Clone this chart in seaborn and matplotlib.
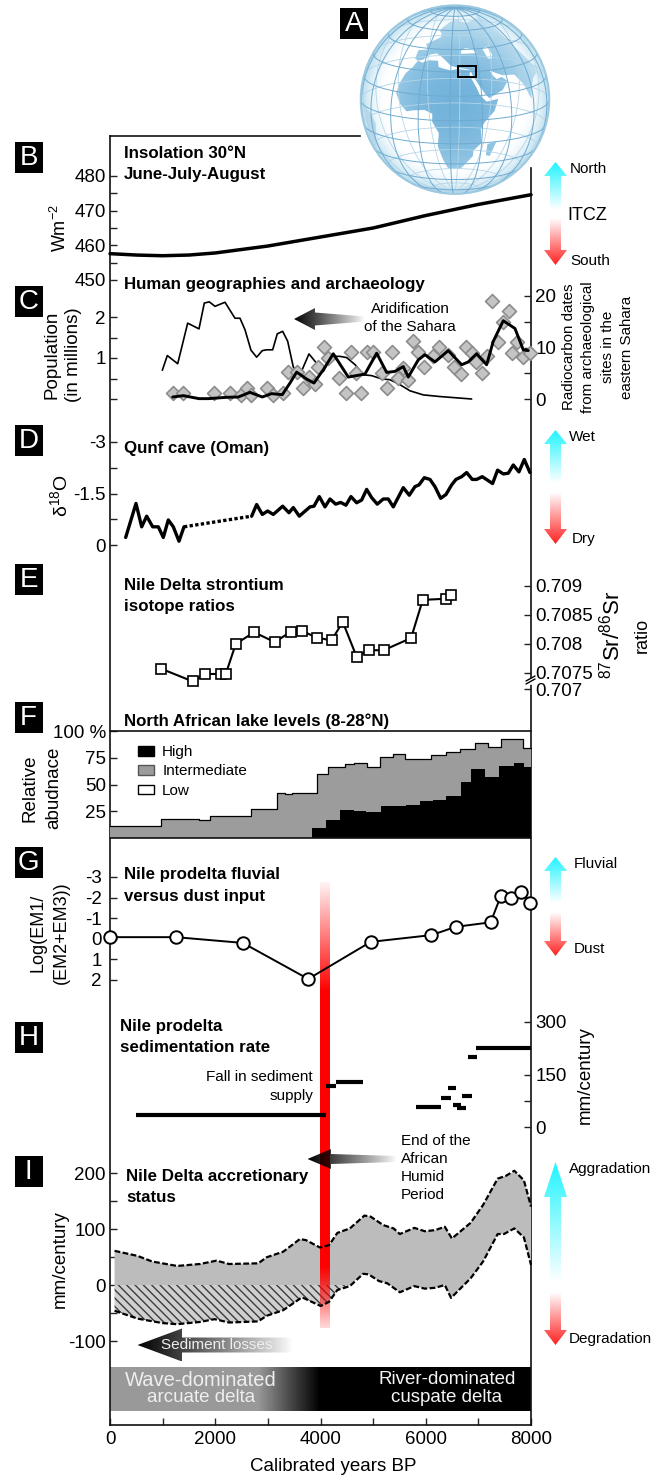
import numpy as np
import pandas as pd
import seaborn as sns
import matplotlib
matplotlib.use("Agg")
import matplotlib.pyplot as plt
from matplotlib.patches import Polygon, PathPatch, Rectangle, Patch, Circle
from matplotlib.path import Path

W, H = 652, 1477

# B insolation
insol_years = [0, 500, 1000, 1500, 2000, 3000, 4000, 5000, 6000, 7000, 8000]
insol_vals = [457.6, 457.2, 457.0, 457.2, 457.8, 459.8, 462.4, 465.0, 468.6, 471.8, 474.6]

# C population and radiocarbon dates
pop_years = [994, 1089, 1286, 1476, 1691, 1792, 1887, 1995, 2185, 2375, 2470, 2565, 2679, 2787, 2894, 2977,
             3091, 3179, 3281, 3376, 3483, 3610, 3781, 3914, 4053, 4212, 4370, 4497, 4655, 4813, 4972, 5162,
             5320, 5510, 5700, 5953, 6270, 6872]
pop_vals = [0.70, 1.06, 0.86, 1.85, 1.71, 2.34, 2.37, 2.26, 2.36, 1.97, 1.97, 1.69, 1.19, 1.02, 1.18, 1.20,
            1.20, 1.59, 1.65, 1.41, 0.78, 0.59, 1.10, 0.89, 0.67, 1.04, 1.04, 1.01, 0.84, 0.59, 0.57, 0.49,
            0.47, 0.35, 0.20, 0.10, 0.06, 0.0]
dates_years = [1191, 1393, 1691, 1868, 2217, 2438, 2660, 2894, 3071, 3274, 3420, 3547, 3737, 3876, 4053, 4243,
               4528, 4845, 5067, 5257, 5415, 5573, 5668, 5858, 5985, 6175, 6428, 6682, 6808, 6967, 7157, 7283,
               7473, 7695, 7853, 7948]
dates_vals = [0.39, 0.65, 0.07, 0.07, 0.33, 0.39, 1.29, 0.39, 1.04, 0.84, 3.1, 5.23, 3.87, 3.1, 5.68, 8.78,
              4.26, 4.84, 8.9, 5.16, 5.36, 6.3, 4.26, 7.6, 8.6, 7.2, 9.4, 6.65, 7.2, 8.8, 6.65, 11.2,
              15.2, 13.7, 9.55, 9.4]
site_years = [1191, 1393, 1982, 2280, 2482, 2597, 2679, 2989, 3091, 3293, 3388, 3559, 3673, 3787, 3895, 3958,
              4066, 4148, 4357, 4573, 4484, 4763, 4889, 4990, 5364, 4674, 5162, 5269, 5478, 5573, 5668, 5763,
              5858, 5966, 6251, 6143, 6428, 6536, 6663, 6764, 6872, 6954, 7061, 7157, 7252, 7473, 7580, 7378,
              7727, 7644, 7853, 7980]
site_vals = [1.16, 1.16, 1.16, 1.16, 0.84, 2.13, 0.84, 2.13, 0.84, 1.16, 5.23, 5.23, 2.13, 4.26, 2.9, 6.2,
             10.07, 7.94, 4.07, 9.1, 1.16, 1.16, 9.1, 9.1, 9.1, 5.03, 5.03, 2.13, 4.07, 6.0, 3.74, 11.2,
             9.2, 6.2, 10.07, 8.26, 8.6, 6.2, 4.9, 10.07, 8.9, 7.1, 5.03, 8.26, 19.1, 15.0, 17.0, 11.0,
             11.0, 8.9, 8.07, 8.9]

# D Qunf cave
qunf_a_years = [298, 494, 602, 697, 811, 918, 1013, 1108, 1203, 1311, 1406]
qunf_a_vals = [-0.22, -1.21, -0.53, -0.84, -0.53, -0.53, -0.22, -0.73, -0.53, -0.11, -0.53]
qunf_gap_years = [1406, 2692]
qunf_gap_vals = [-0.53, -0.84]
qunf_b_years = [2692, 2787, 2894, 2996, 3103, 3281, 3401, 3483, 3597, 3800, 3876, 3977, 4085, 4180, 4288, 4383,
                4484, 4579, 4687, 4782, 4877, 4972, 5079, 5193, 5288, 5383, 5573, 5687, 5795, 5871, 5972, 6080,
                6175, 6283, 6384, 6492, 6574, 6682, 6777, 6884, 6967, 7074, 7270, 7365, 7473, 7568, 7663, 7771,
                7872, 7980]
qunf_b_vals = [-0.84, -1.18, -0.89, -0.99, -0.89, -1.13, -0.94, -1.09, -0.84, -1.11, -1.13, -1.41, -1.11, -1.34,
               -1.19, -1.24, -1.16, -1.41, -1.23, -1.31, -1.62, -1.38, -1.19, -1.34, -1.34, -1.11, -1.67, -1.45,
               -1.70, -1.75, -1.96, -1.91, -1.70, -1.36, -1.47, -1.75, -1.91, -1.99, -2.11, -1.91, -1.91, -1.99,
               -1.79, -2.18, -2.07, -2.09, -2.33, -2.13, -2.49, -2.11]

# E strontium
sr_years = [973, 1575, 1812, 2105, 2200, 2390, 2738, 3134, 3434, 3656, 3925, 4210, 4423, 4685, 4922, 5199, 5721,
            5943, 6394, 6481]
sr_vals = [.70757, .70735, .70748, .70748, .70748, .70800, .70820, .70803, .70821, .70822, .70811, .70806, .70838,
           .70778, .70789, .70789, .70810, .70876, .70878, .70885]

# F lake levels
total_edges = [0, 973, 1693, 1907, 2682, 3173, 3331, 3450, 3941, 4138, 4463, 4637, 4890, 5128, 5373, 5602, 6101,
               6378, 6655, 6932, 7185, 7422, 7857, 8000]
total_vals = [11.6, 17.6, 16.7, 21, 27, 42, 41.5, 42, 60, 66.7, 69, 70.4, 66.4, 75.5, 78.6, 74, 77.4, 80.8, 83.3,
              88.7, 85.5, 92.5, 84, 84]
high_edges = [3846, 4099, 4368, 4637, 4874, 5151, 5626, 5887, 6141, 6394, 6671, 6853, 7130, 7383, 7684, 7865, 8000]
high_vals = [9, 16.4, 26.4, 25.2, 24, 30, 30.5, 34.3, 35.2, 39.3, 52.5, 64.8, 57, 67.6, 70, 66, 66]

# G fluvial vs dust
em_years = [0, 1250, 2524, 3767, 4954, 6109, 6568, 7233, 7430, 7612, 7818, 7984]
em_vals = [-0.08, -0.08, 0.2, 1.95, 0.15, -0.18, -0.58, -0.8, -2.1, -2.0, -2.25, -1.75]

# H sedimentation rate
sed_start = [499, 4099, 4289, 5824, 6299, 6417, 6512, 6599, 6695, 6805, 6963]
sed_end = [4099, 4289, 4811, 6299, 6481, 6584, 6679, 6773, 6877, 6979, 8000]
sed_rate = [35, 116, 128, 57, 84, 111, 64, 55, 90, 200, 226]

# I accretion
upper_years = [87, 522, 799, 1274, 1709, 2026, 2263, 2817, 2975, 3292, 3608, 3727, 3988, 4162, 4320, 4558, 4835,
               4954, 5191, 5389, 5507, 5784, 5982, 6180, 6362, 6497, 6853, 7090, 7367, 7525, 7683, 7865, 8000]
upper_vals = [61, 52, 42, 34, 37.5, 43.5, 37.5, 38.7, 49.4, 59.5, 82, 80, 67, 71, 93, 101, 124, 122, 107, 101, 91,
              102, 96, 98, 104, 83, 111, 143, 190, 195, 204, 187, 140]
lower_years = [87, 522, 997, 1274, 1709, 1986, 2263, 2817, 2975, 3292, 3648, 4004, 4162, 4320, 4558, 4811, 4914,
               5112, 5270, 5507, 5784, 5982, 6180, 6362, 6481, 6853, 7090, 7367, 7486, 7683, 7865, 8000]
lower_vals = [-46, -60, -68, -70, -66, -61, -67, -65, -55, -45, -22, -37.5, -30, -9, -2, 20, 19, 7, 3, -13, -2,
              -6.5, -5, 0, -23, 12, 42, 91, 91, 101, 85, 36]

# globe outlines, lon/lat
africa_lon = [-6, -2, 3, 10, 11, 15, 20, 25, 32, 34, 33, 35, 37, 39, 43, 51, 48, 41, 39, 40, 35, 35, 32, 27, 18, 15,
              12, 13, 9, 9, 4, -4, -8, -13, -17, -16, -13, -9]
africa_lat = [36, 35, 37, 37, 33, 32, 31, 32, 31, 31, 28, 24, 20, 15, 11, 12, 5, -2, -6, -15, -20, -24, -28, -34,
              -34, -27, -17, -8, -1, 4, 6, 5, 4, 8, 14, 20, 27, 31]
eurasia_lon = [-9, -9, -1, -4, 2, 8, 8, 5, 6, 14, 25, 40, 60, 80, 100, 100, 95, 92, 85, 80, 78, 73, 67, 57, 52, 48,
               50, 52, 56, 60, 55, 45, 43, 39, 35, 34, 30, 24, 20, 15, 12, 8, 3, 0, -2, -6]
eurasia_lat = [37, 43, 44, 48, 51, 54, 57, 59, 62, 68, 71, 67, 70, 73, 75, 20, 15, 22, 20, 14, 8, 18, 25, 26, 28, 30,
               26, 24, 25, 22, 17, 13, 15, 21, 28, 31, 32, 33, 34, 38, 40, 42, 41, 39, 37, 36]
black_sea_lon = [28, 33, 41, 38, 32, 28]
black_sea_lat = [42, 42, 42, 45, 46, 44]
caspian_lon = [47, 52, 54, 52, 49]
caspian_lat = [45, 46, 40, 37, 38]
madagascar_lon = [44, 50, 47, 44]
madagascar_lat = [-16, -15, -25, -24]
brazil_lon = [-35, -40, -50, -60, -66, -66, -50, -40]
brazil_lat = [-8, -3, 0, 8, 8, -25, -30, -20]

sns.set_style("ticks")
plt.rcParams["font.family"] = ["Liberation Sans", "DejaVu Sans"]
plt.rcParams["mathtext.default"] = "regular"
plt.rcParams["hatch.linewidth"] = 1.0
plt.rcParams["text.color"] = "black"
plt.rcParams["axes.labelcolor"] = "black"
plt.rcParams["xtick.labelcolor"] = "black"
plt.rcParams["ytick.labelcolor"] = "black"

fig = plt.figure(figsize=(W / 100, H / 100), dpi=100)


def add_box(left, top, right, bottom, zorder=3):
    ax = fig.add_axes([left / W, 1 - bottom / H, (right - left) / W, (bottom - top) / H], zorder=zorder)
    ax.patch.set_visible(False)
    ax.autoscale(False)
    return ax


def panel(top_px, bottom_px, val_top, val_bottom, ticks, labels, side="left", zorder=3, pad=3):
    ax = add_box(110, top_px, 531, bottom_px, zorder)
    for s in ax.spines.values():
        s.set_visible(False)
    ax.set_xticks([])
    if side == "right":
        ax.yaxis.tick_right()
    ax.set_yticks(ticks, labels)
    ax.set_xlim(0, 8000)
    ax.set_ylim(val_bottom, val_top)
    ax.tick_params(axis="y", direction="in", length=5, width=1, labelsize=13.5, pad=pad, color="#222222")
    return ax


def line(ax, x, y, lw, **kwargs):
    sns.lineplot(x=x, y=y, ax=ax, color="black", linewidth=lw, estimator=None, sort=False, clip_on=False, **kwargs)
    ax.set_xlabel("")
    ax.set_ylabel("")


# globe
ax_globe = add_box(0, 0, W, H, zorder=0)
ax_globe.set_xlim(0, W)
ax_globe.set_ylim(H, 0)
ax_globe.axis("off")
gx, gy, gr = 455.0, 99.6, 94.3
lon0, lat0 = np.radians(23), np.radians(13)


def project(lon, lat, back=False):
    lon, lat = np.radians(lon), np.radians(lat)
    dl = lon - lon0
    px = np.cos(lat) * np.sin(dl)
    py = np.cos(lat0) * np.sin(lat) - np.sin(lat0) * np.cos(lat) * np.cos(dl)
    c = np.sin(lat0) * np.sin(lat) + np.cos(lat0) * np.cos(lat) * np.cos(dl)
    if not back:
        limb = c < 0
        norm = np.hypot(px, py)
        px = np.where(limb, px / norm, px)
        py = np.where(limb, py / norm, py)
    return gx + gr * px, gy - gr * py, c


yy, xx = np.mgrid[-1:1:300j, -1:1:300j]
rr = np.hypot(xx, yy)
sphere = np.ones((300, 300, 4))
sphere[..., 0], sphere[..., 1], sphere[..., 2] = 0.62, 0.82, 0.91
sphere[..., 3] = np.clip((rr - 0.72) / 0.28, 0, 1) ** 2 * 0.75
im = ax_globe.imshow(sphere, extent=(gx - gr, gx + gr, gy + gr, gy - gr), aspect="auto", zorder=1)
im.set_clip_path(Circle((gx, gy), gr, transform=ax_globe.transData))

verts, codes = [], []
for lons, lats in [(africa_lon, africa_lat), (eurasia_lon, eurasia_lat), (madagascar_lon, madagascar_lat)]:
    px_, py_, _ = project(np.array(lons, float), np.array(lats, float))
    pts = list(zip(px_, py_))
    verts += pts + [pts[0]]
    codes += [Path.MOVETO] + [Path.LINETO] * (len(pts) - 1) + [Path.CLOSEPOLY]
land_rgb = np.zeros((300, 300, 3))
shade = np.clip(rr * 0.95 - 0.1 * yy, 0, 1) ** 2
for i, (a, b) in enumerate(zip((0.45, 0.70, 0.86), (0.82, 0.92, 0.96))):
    land_rgb[..., i] = a + (b - a) * shade
land = ax_globe.imshow(land_rgb, extent=(gx - gr, gx + gr, gy + gr, gy - gr), aspect="auto", zorder=2)
land.set_clip_path(PathPatch(Path(verts, codes), transform=ax_globe.transData))

for lons, lats, col in [(black_sea_lon, black_sea_lat, "white"), (caspian_lon, caspian_lat, "white"),
                        (brazil_lon, brazil_lat, "#b7d8ea")]:
    px_, py_, _ = project(np.array(lons, float), np.array(lats, float))
    ax_globe.add_patch(Polygon(np.c_[px_, py_], facecolor=col, edgecolor="none", zorder=3))

for lon in np.arange(-180, 180, 20):
    lat_line = np.linspace(-90, 90, 90)
    px_, py_, c = project(np.full(90, float(lon)), lat_line, back=True)
    ax_globe.plot(np.where(c >= 0, px_, np.nan), np.where(c >= 0, py_, np.nan), color="#6fabd0", lw=0.7, zorder=4)
    ax_globe.plot(np.where(c < 0, px_, np.nan), np.where(c < 0, py_, np.nan), color="#b4d6e8", lw=0.6, zorder=3)
for lat in np.arange(-75, 76, 15):
    lon_line = np.linspace(-180, 180, 180)
    px_, py_, c = project(lon_line, np.full(180, float(lat)), back=True)
    ax_globe.plot(np.where(c >= 0, px_, np.nan), np.where(c >= 0, py_, np.nan), color="#6fabd0", lw=0.7, zorder=4)
    ax_globe.plot(np.where(c < 0, px_, np.nan), np.where(c < 0, py_, np.nan), color="#b4d6e8", lw=0.6, zorder=3)
ax_globe.add_patch(Circle((gx, gy), gr, facecolor="none", edgecolor="#9cc9e0", lw=1.4, zorder=5))
ax_globe.add_patch(Rectangle((457.5, 66), 18.5, 11, facecolor="none", edgecolor="black", lw=1.4, zorder=6))

# outer frame, y in image pixels
frame = add_box(110, 136, 531, 1425, zorder=1)
frame.spines["top"].set_bounds(0, 4760)
frame.spines["right"].set_bounds(1425, 168)
for s in frame.spines.values():
    s.set_linewidth(1.2)
    s.set_color("#111111")
frame.set_yticks([])
frame.set_xticks(np.arange(0, 8001, 1000), ["0", "", "2000", "", "4000", "", "6000", "", "8000"])
frame.tick_params(axis="x", direction="in", length=5, width=1, labelsize=13.5, pad=4)
frame.set_xlabel("Calibrated years BP", fontsize=13.5)
frame.xaxis.set_label_coords(0.53, -0.0255)

bar_x = np.linspace(0, 8000, 400)
bar_grey = np.interp(bar_x, [0, 2810, 3990, 8000], [0.6, 0.6, 0.0, 0.0])
frame.imshow(bar_grey[None, :], cmap="gray", vmin=0, vmax=1, extent=(0, 8000, 1411, 1367), aspect="auto")
frame.set_xlim(0, 8000)
frame.set_ylim(1425, 136)

# I
ax_i = panel(1173, 1341, 200, -100, [-100, -50, 0, 50, 100, 150, 200], ["-100", "", "0", "", "100", "", "200"], zorder=2)
lx = np.array(lower_years, float)
lv = np.array(lower_vals, float)
right_of_hatch = lx > 4558
grey_x = list(upper_years) + list(lx[right_of_hatch][::-1]) + [4558, 87]
grey_y = list(upper_vals) + list(lv[right_of_hatch][::-1]) + [0, 0]
ax_i.fill(grey_x, grey_y, color="#bcbcbc", lw=0, zorder=1)
hatch_x = list(lx[~right_of_hatch]) + [4558, 87]
hatch_y = list(lv[~right_of_hatch]) + [0, 0]
ax_i.fill(hatch_x, hatch_y, facecolor="#cfcfcf", edgecolor="#3c3c3c", hatch="\\\\\\\\", lw=0, zorder=1)

# red band, fades at both ends
px_rows = np.arange(882, 1329)
alpha = np.interp(px_rows, [882, 990, 1267, 1328], [0.05, 1, 1, 0.15])
band = np.zeros((len(px_rows), 1, 4))
band[..., 0] = 1.0
band[:, 0, 3] = alpha
val_per_px = 300 / (1341 - 1173)
band_im = ax_i.imshow(band, extent=(3988, 4162, 200 - (1328 - 1173) * val_per_px, 200 - (882 - 1173) * val_per_px),
                      aspect="auto", origin="upper", zorder=2)
band_im.set_clip_on(False)
line(ax_i, upper_years, upper_vals, 1.6, linestyle=(0, (2.6, 1.1)), zorder=3)
line(ax_i, lower_years, lower_vals, 1.6, linestyle=(0, (2.6, 1.1)), zorder=3)
ax_i.set_xlim(0, 8000)
ax_i.set_ylim(-100, 200)

# B
ax_b = panel(176, 280, 480, 450, [450, 455, 460, 465, 470, 475, 480], ["450", "", "460", "", "470", "", "480"])
line(ax_b, insol_years, insol_vals, 2.5)

# C
ax_c = panel(317, 399, 2, 0, [0, 0.5, 1, 1.5, 2], ["", "", "1", "", "2"])
line(ax_c, pop_years, pop_vals, 1.2)
ax_c2 = panel(296, 399, 20, 0, [0, 5, 10, 15, 20], ["0", "", "10", "", "20"], side="right")
sns.scatterplot(x=site_years, y=site_vals, ax=ax_c2, marker="D", s=50, color="#c4c4c4", edgecolor="#8c8c8c",
                linewidth=1.2, clip_on=False, zorder=2)
line(ax_c2, dates_years, dates_vals, 2.1, zorder=3)

# D
ax_d = panel(442, 545, -3, 0, [-3, -2.25, -1.5, -0.75, 0], ["-3", "", "-1.5", "", "0"])
line(ax_d, qunf_a_years, qunf_a_vals, 2.4)
line(ax_d, qunf_gap_years, qunf_gap_vals, 2.4, linestyle=(0, (1, 0.7)))
line(ax_d, qunf_b_years, qunf_b_vals, 2.4)

# E, the 0.707 tick sits below the axis break
ax_e = panel(586, 689, .709, .70722, [.70722, .7075, .708, .7085, .709],
             ["0.707", "0.7075", "0.708", "0.7085", "0.709"], side="right")
line(ax_e, sr_years, sr_vals, 1.5, marker="s", markersize=7, markerfacecolor="white", markeredgecolor="black",
     markeredgewidth=1.2)

# F
ax_f = panel(731, 838, 100, 0, [25, 50, 75, 100], ["25", "50", "75", "100 %"])
ax_f.fill_between(total_edges, total_vals, step="post", color="#9c9c9c", lw=0)
ax_f.fill_between(high_edges, high_vals, step="post", color="black", lw=0)
line(ax_f, total_edges, total_vals, 0.9, drawstyle="steps-post")
ax_f.axhline(100, color="#111111", lw=1.2, clip_on=False)
ax_f.axhline(0, color="#111111", lw=1.2, clip_on=False)
ax_f.legend(handles=[Patch(facecolor="black", edgecolor="black", label="High"),
                     Patch(facecolor="#9c9c9c", edgecolor="#555555", label="Intermediate"),
                     Patch(facecolor="white", edgecolor="black", label="Low")],
            loc="upper left", bbox_to_anchor=(0.066, 0.865), frameon=False, fontsize=11, borderpad=0, borderaxespad=0,
            handlelength=1.05, handleheight=0.55, handletextpad=0.55, labelspacing=0.33)

# G
ax_g = panel(877, 980, -3, 2, [-3, -2, -1, 0, 1, 2], ["-3", "-2", "-1", "0", "1", "2"], pad=6)
line(ax_g, em_years, em_vals, 1.4, marker="o", markersize=9, markerfacecolor="white", markeredgecolor="black",
     markeredgewidth=1.4)

# H
ax_h = panel(1022, 1127, 300, 0, [0, 75, 150, 225, 300], ["0", "", "150", "", "300"], side="right")
sed = pd.DataFrame({"year": sed_start + sed_end, "rate": sed_rate + sed_rate,
                    "seg": list(range(len(sed_rate))) * 2})
sns.lineplot(data=sed, x="year", y="rate", units="seg", estimator=None, color="black", linewidth=3.0, ax=ax_h,
             solid_capstyle="butt")
ax_h.set_xlabel("")
ax_h.set_ylabel("")
ax_h.set_xlim(0, 8000)
ax_h.set_ylim(0, 300)

# overlay for arrows and labels, in image pixels
ov = add_box(0, 0, W, H, zorder=6)
ov.set_xlim(0, W)
ov.set_ylim(H, 0)
ov.axis("off")


def vgrad(poly, top, bottom, color, a_top, a_bottom):
    img = np.zeros((200, 1, 4))
    img[..., :3] = matplotlib.colors.to_rgb(color)
    img[:, 0, 3] = np.linspace(a_top, a_bottom, 200)
    xs = [p[0] for p in poly]
    im_ = ov.imshow(img, extent=(min(xs), max(xs), bottom, top), aspect="auto", origin="upper", zorder=2)
    im_.set_clip_path(Polygon(poly, transform=ov.transData))


def double_arrow(top, fade, red, tip, head_top=14, head_bot=15, x=555.5, hw=11.5, sw=5.5):
    up = [(x, top), (x + hw, top + head_top), (x + sw, top + head_top), (x + sw, fade), (x - sw, fade),
          (x - sw, top + head_top), (x - hw, top + head_top)]
    down = [(x, tip), (x + hw, tip - head_bot), (x + sw, tip - head_bot), (x + sw, red), (x - sw, red),
            (x - sw, tip - head_bot), (x - hw, tip - head_bot)]
    vgrad(up, top, fade, "#1ff4ff", 1, 0)
    vgrad(down, red, tip, "#ff2020", 0, 1)


double_arrow(162, 210, 218, 265)
double_arrow(430, 483, 492, 544)
double_arrow(857, 903, 912, 956)
double_arrow(1162, 1282, 1292, 1345, head_top=35)


def dark_arrow(tip, head_end, tail, y, head_half, shaft_head, shaft_tail):
    poly = [(tip, y), (head_end, y - head_half), (head_end, y - shaft_head), (tail, y - shaft_tail),
            (tail, y + shaft_tail), (head_end, y + shaft_head), (head_end, y + head_half)]
    img = np.zeros((1, 200, 4))
    img[0, :, 3] = np.linspace(1, 0, 200) ** 0.9
    im_ = ov.imshow(img, extent=(tip, tail, y + head_half, y - head_half), aspect="auto", zorder=2)
    im_.set_clip_path(Polygon(poly, transform=ov.transData))


dark_arrow(294, 315, 365, 319, 11, 6.5, 2.5)
dark_arrow(307.5, 331, 396, 1159, 10, 5, 3)
dark_arrow(137.5, 182, 292, 1345, 16.5, 7.5, 7.5)
ov.set_xlim(0, W)
ov.set_ylim(H, 0)

# axis break on the strontium scale
ov.plot([531, 531], [679, 684], color="white", lw=1.6, zorder=3)
ov.plot([526, 535], [684, 679], color="black", lw=1.0, zorder=3)
ov.plot([526, 535], [681, 676], color="black", lw=1.0, zorder=3)


def tag(letter, left, top):
    ov.add_patch(Rectangle((left, top), 28, 31, facecolor="black", edgecolor="none", zorder=4))
    ov.text(left + 14, top + 16, letter, color="white", fontsize=20, ha="center", va="center", zorder=5)


tag("A", 340, 8)
tag("B", 14.5, 142)
tag("C", 14.5, 286)
tag("D", 14.5, 425)
tag("E", 14.5, 564)
tag("F", 14.5, 702)
tag("G", 14.5, 847)
tag("H", 14.5, 1022)
tag("I", 14.5, 1156)


def bold(s, x, y):
    ov.text(x, y, s, fontsize=12.2, fontweight="bold", ha="left", va="center", zorder=5)


bold("Insolation 30°N", 124, 153)
bold("June-July-August", 124, 174)
bold("Human geographies and archaeology", 124, 284)
bold("Qunf cave (Oman)", 124, 449)
bold("Nile Delta strontium", 124, 585)
bold("isotope ratios", 124, 606)
bold("North African lake levels (8-28°N)", 124, 721)
bold("Nile prodelta fluvial", 124, 875)
bold("versus dust input", 124, 896)
bold("Nile prodelta", 120, 1026)
bold("sedimentation rate", 120, 1047)
bold("Nile Delta accretionary", 126, 1177)
bold("status", 126, 1198)


def note(s, x, y, size=11, ha="left", rot=0, color="black"):
    ov.text(x, y, s, fontsize=size, ha=ha, va="center", rotation=rot, color=color, zorder=5)


note("North", 570, 169, 11)
note("South", 570, 261, 11)
note("ITCZ", 567, 215, 13)
note("Wet", 569, 437, 11)
note("Dry", 572, 539, 11)
note("Fluvial", 574, 864, 11)
note("Dust", 574, 949, 11)
note("Aggradation", 569, 1169, 11)
note("Degradation", 569, 1339, 11)
note("Aridification", 410, 309, 11, ha="center")
note("of the Sahara", 410, 327, 11, ha="center")
note("Fall in sediment", 313, 1077, 11, ha="right")
note("supply", 313, 1096, 11, ha="right")
note("End of the", 401, 1141)
note("African", 401, 1159)
note("Humid", 401, 1177)
note("Period", 401, 1195)
note("Sediment losses", 217, 1345, 11, ha="center", color="#eeeeee")
note("Wave-dominated", 201, 1381, 14.5, ha="center", color="#eeeeee")
note("arcuate delta", 201, 1398, 13.5, ha="center", color="#eeeeee")
note("River-dominated", 447, 1380, 13.5, ha="center", color="#f4f4f4")
note("cuspate delta", 447, 1397, 13.5, ha="center", color="#f4f4f4")

note("Wm$^{-2}$", 60, 228, 13, ha="center", rot=90)
note("Population", 52, 355, 13.5, ha="center", rot=90)
note("(in millions)", 73, 355, 13.5, ha="center", rot=90)
note("δ$^{18}$O", 60, 496, 14, ha="center", rot=90)
note("Relative", 30, 788, 13.5, ha="center", rot=90)
note("abudnace", 54, 788, 13.5, ha="center", rot=90)
note("Log(EM1/", 38, 933, 13, ha="center", rot=90)
note("(EM2+EM3))", 61, 933, 13, ha="center", rot=90)
note("mm/century", 60, 1259, 13.5, ha="center", rot=90)
note("mm/century", 585, 1075, 13.5, ha="center", rot=90)
note("$^{87}$Sr/$^{86}$Sr", 612, 635, 16, ha="center", rot=90)
note("ratio", 642, 635, 13, ha="center", rot=90)
note("Radiocarbon dates", 569, 347, 10.9, ha="center", rot=90)
note("from archaeological", 588, 347, 10.9, ha="center", rot=90)
note("sites in the", 608, 347, 10.9, ha="center", rot=90)
note("eastern Sahara", 627, 347, 10.9, ha="center", rot=90)

fig.savefig("out.png", dpi=100)
